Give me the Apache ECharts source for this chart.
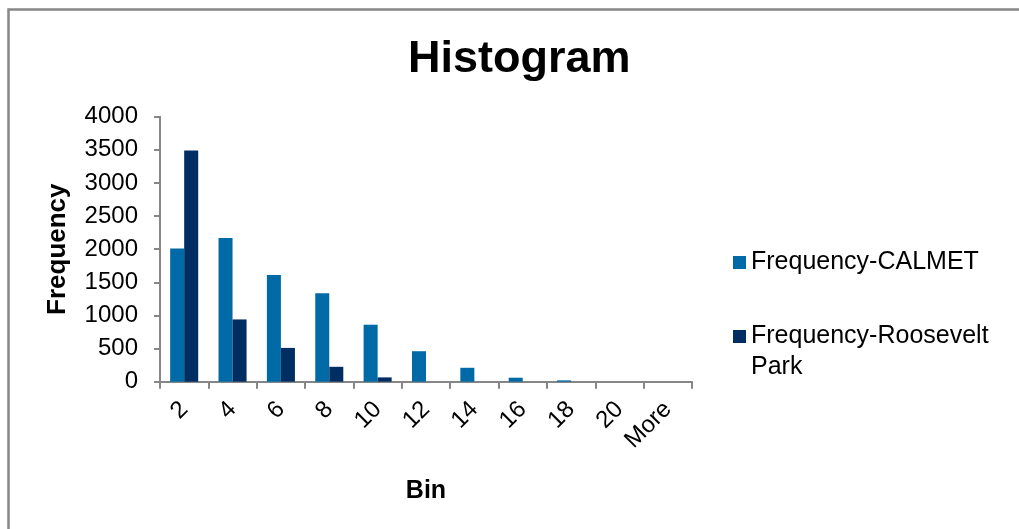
<!DOCTYPE html>
<html>
<head>
<meta charset="utf-8">
<script src="https://cdn.jsdelivr.net/npm/echarts@6/dist/echarts.min.js"></script>
<style>
html,body{margin:0;padding:0;background:#fff;}
#chart{width:1019px;height:529px;}
</style>
</head>
<body>
<div id="chart"></div>
<script>
const categories = ['2', '4', '6', '8', '10', '12', '14', '16', '18', '20', 'More'];
const calmet = [2010, 2170, 1610, 1335, 860, 460, 210, 60, 20, 0, 0];
const roosevelt = [3490, 940, 510, 225, 65, 0, 0, 0, 0, 0, 0];
const yTicks = [0, 500, 1000, 1500, 2000, 2500, 3000, 3500, 4000];

const font = 'Liberation Sans, Arial, sans-serif';
const axisColor = '#868686';

const chart = echarts.init(document.getElementById('chart'), null, {renderer: 'canvas'});
chart.setOption({
  animation: false,
  backgroundColor: '#ffffff',
  graphic: [{
    type: 'rect',
    left: 6, top: 7,
    shape: {width: 1040, height: 560},
    style: {fill: 'none', stroke: '#878787', lineWidth: 2.5},
    silent: true
  }],
  title: {
    text: 'Histogram',
    left: 408,
    top: 37,
    padding: 0,
    textStyle: {fontFamily: font, fontSize: 45, fontWeight: 'bold', color: '#000'}
  },
  legend: [{
    data: ['Frequency-CALMET'],
    orient: 'vertical',
    left: 733, top: 250,
    padding: 0,
    itemWidth: 13, itemHeight: 13,
    icon: 'rect',
    itemStyle: {borderWidth: 0},
    textStyle: {fontFamily: font, fontSize: 25, color: '#000'}
  }, {
    data: ['Frequency-Roosevelt Park'],
    orient: 'vertical',
    left: 733, top: 290,
    padding: 0,
    itemWidth: 13, itemHeight: 13,
    icon: 'rect',
    itemStyle: {borderWidth: 0},
    formatter: function () { return ' \nFrequency-Roosevelt\nPark'; },
    textStyle: {fontFamily: font, fontSize: 25, color: '#000', lineHeight: 31}
  }],
  grid: {left: 160, right: 327, top: 116.7, bottom: 147.3, containLabel: false},
  xAxis: {
    type: 'category',
    data: categories,
    name: 'Bin',
    nameLocation: 'middle',
    nameGap: 97,
    nameTextStyle: {fontFamily: font, fontSize: 25, fontWeight: 'bold', color: '#000'},
    axisLine: {show: true, lineStyle: {color: axisColor, width: 2}},
    axisTick: {show: true, interval: 0, alignWithLabel: false, length: 7, lineStyle: {color: axisColor, width: 2}},
    axisLabel: {interval: 0, rotate: 45, margin: 24, fontFamily: font, fontSize: 24, color: '#000'},
    splitLine: {show: false}
  },
  yAxis: {
    type: 'value',
    min: yTicks[0],
    max: yTicks[yTicks.length - 1],
    interval: 500,
    name: 'Frequency',
    nameLocation: 'middle',
    nameGap: 89,
    nameRotate: 90,
    nameTextStyle: {fontFamily: font, fontSize: 26, fontWeight: 'bold', color: '#000'},
    axisLine: {show: true, lineStyle: {color: axisColor, width: 2}},
    axisTick: {show: true, length: 6, lineStyle: {color: axisColor, width: 2}},
    axisLabel: {margin: 22, fontFamily: font, fontSize: 24, color: '#000', formatter: function (v) { return String(v); }},
    splitLine: {show: false}
  },
  series: [{
    name: 'Frequency-CALMET',
    type: 'bar',
    data: calmet,
    barGap: '0%',
    barCategoryGap: '42%',
    itemStyle: {color: '#006aa6'}
  }, {
    name: 'Frequency-Roosevelt Park',
    type: 'bar',
    data: roosevelt,
    barGap: '0%',
    barCategoryGap: '42%',
    itemStyle: {color: '#002e62'}
  }]
});
</script>
</body>
</html>
